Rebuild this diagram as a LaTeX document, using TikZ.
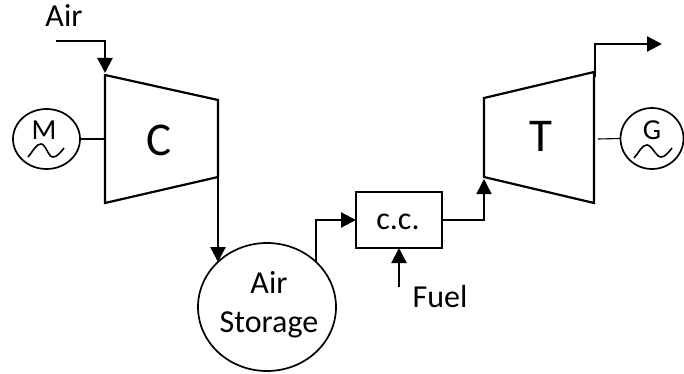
\documentclass[tikz,border=0pt]{standalone}
\usepackage{fontspec}
\setmainfont{Carlito}
\usetikzlibrary{positioning}
\usetikzlibrary{arrows.meta}
\usetikzlibrary{shapes.geometric}

\tikzset{
  part/.style={draw, line width=2.2pt, line join=miter},
  flow/.style={line width=2.2pt, -{Triangle[length=15pt, width=15pt]}},
  shaft/.style={line width=1.1pt},
  wave/.style={line width=1.6pt},
  machine/.style={ellipse, draw, line width=1.7pt, inner sep=0pt, outer sep=0pt},
  txt/.style={inner sep=0pt, outer sep=0pt, anchor=base, font=\fontsize{32}{39}\selectfont},
  smalltxt/.style={txt, font=\fontsize{29}{39}\selectfont},
  bigtxt/.style={txt, font=\fontsize{47}{50}\selectfont},
}

\begin{document}
\begin{tikzpicture}[x=1pt, y=-1pt]
    \useasboundingbox (0,0) rectangle (684,374);

    % Compressor and turbine corners
    \coordinate (ca) at (105,75);
    \coordinate (cb) at (218,100);
    \coordinate (cc) at (218,177);
    \coordinate (cd) at (105,203);
    \coordinate (ta) at (484,98);
    \coordinate (tb) at (594,72);
    \coordinate (tc) at (594,203);
    \coordinate (td) at (484,177);
    \draw[part] (ca) -- (cb) -- (cc) -- (cd) -- cycle;
    \draw[part] (ta) -- (tb) -- (tc) -- (td) -- cycle;

    % Machines and boxes
    \node[machine, minimum width=67pt, minimum height=60pt] (motor) at (46.5,139) {};
    \node[machine, minimum width=63pt, minimum height=61pt] (gen) at (652,138.5) {};
    \node[machine, minimum width=138pt, minimum height=128pt] (storage) at (267,307) {};
    \node[draw, line width=2.2pt, outer sep=0pt, minimum width=86pt, minimum height=56pt] (burner) at (399,220) {};

    % Labels
    \node[txt] (airlabel) at (64,27) {Air};
    \node[smalltxt] (mlabel) at (44,140) {M};
    \node[smalltxt] (glabel) at (652,140) {G};
    \node[bigtxt] (clabel) at (159,156) {C};
    \node[bigtxt] (tlabel) at (541,152) {T};
    \node[txt] (burnerlabel) at (398,229) {c.c.};
    \node[txt] (fuellabel) at (440,307) {Fuel};
    \node[txt] (storelabela) at (269,293) {Air};
    \node[txt] (storelabelb) at (269,332) {Storage};

    % Free ends
    \coordinate (airstart) at (56,41);
    \coordinate (airend) at (105,73);
    \coordinate (turbout) at (595,77);
    \coordinate (exhaust) at (662,44);
    \coordinate (storein) at (218,262);
    \coordinate (storeout) at (316,262);
    \coordinate (turbin) at (484,179);
    \coordinate [below=39pt of burner.south] (fuelstart);

    % Shafts
    \draw[shaft] (motor.east) -- (ca |- motor.east);
    \draw[shaft] (gen.west) -- (598,139);

    % Sine signs
    \draw[wave] (28,157) .. controls (34,150) and (36,144) .. (41,144) .. controls (46,144) and (48,157) .. (53,157) .. controls (57,157) and (60,153) .. (64,148);
    \draw[wave] (634,158) .. controls (640,151) and (642,145) .. (647,145) .. controls (652,145) and (656,157) .. (661,157) .. controls (665,157) and (668,153) .. (672,148);

    % Flow lines
    \draw[flow] (airstart) -| (airend);
    \draw[flow] (cc) -- (storein);
    \draw[flow] (storeout) |- (burner.west);
    \draw[flow, line width=1.5pt] (burner.east) -| (turbin);
    \draw[flow] (fuelstart) -- (burner.south);
    \draw[flow] (turbout) |- (exhaust);
\end{tikzpicture}
\end{document}
